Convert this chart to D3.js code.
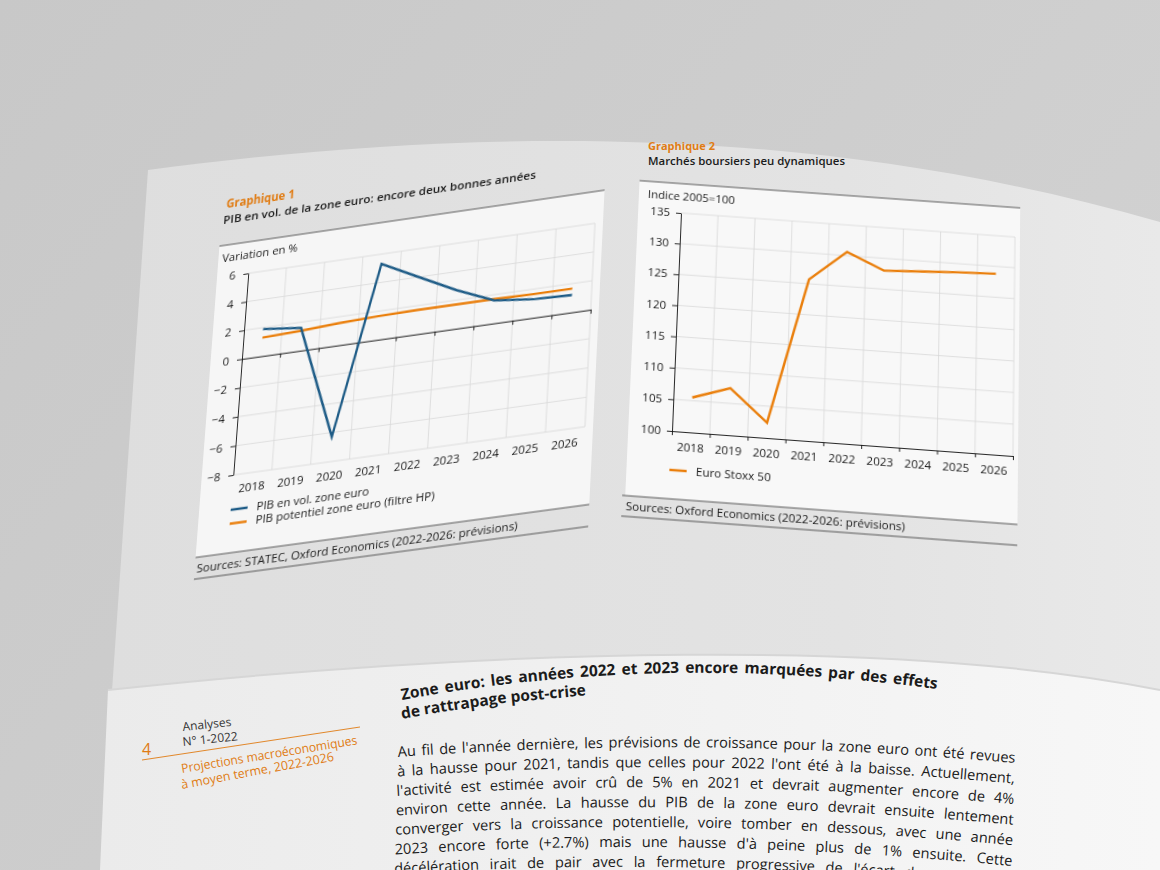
<!DOCTYPE html>
<html><head><meta charset="utf-8">
<script src="https://cdn.jsdelivr.net/npm/d3@7"></script>
<style>
html,body{margin:0;padding:0;width:1160px;height:870px;overflow:hidden;background:#cbcbcb;}
#stage{position:relative;width:1160px;height:870px;overflow:hidden;}
.panel{position:absolute;left:0;top:0;transform-origin:0 0;}
.panel svg{display:block;overflow:visible;}
text{font-family:"Open Sans","Noto Sans",sans-serif;}
</style></head><body><div id="stage"></div>
<script>
// ---------- DATA ----------
const years = ["2018","2019","2020","2021","2022","2023","2024","2025","2026"];
const gdpEuro = [1.9, 1.6, -6.3, 5.3, 4.0, 2.7, 1.6, 1.3, 1.2];
const gdpPotential = [1.3, 1.4, 1.55, 1.65, 1.7, 1.7, 1.7, 1.65, 1.65];
const yTicks1 = [-8, -6, -4, -2, 0, 2, 4, 6];
const stoxx = [105.5, 107.4, 102.4, 125.7, 130.6, 128.0, 128.3, 128.6, 128.8];
const yTicks2 = [100, 105, 110, 115, 120, 125, 130, 135];
const legend1 = ["PIB en vol. zone euro", "PIB potentiel zone euro (filtre HP)"];
const legend2 = ["Euro Stoxx 50"];
const headLines = ["Zone euro: les années 2022 et 2023 encore marquées par des effets", "de rattrapage post-crise"];
const bodyLines = [
 "Au fil de l'année dernière, les prévisions de croissance pour la zone euro ont été revues",
 "à la hausse pour 2021, tandis que celles pour 2022 l'ont été à la baisse. Actuellement,",
 "l'activité est estimée avoir crû de 5% en 2021 et devrait augmenter encore de 4%",
 "environ cette année. La hausse du PIB de la zone euro devrait ensuite lentement",
 "converger vers la croissance potentielle, voire tomber en dessous, avec une année",
 "2023 encore forte (+2.7%) mais une hausse d'à peine plus de 1% ensuite. Cette",
 "décélération irait de pair avec la fermeture progressive de l'écart de production,"
];

const BLUE = "#1d5b86", ORANGE = "#ea7f0c", TORANGE = "#e07c14", GRID = "#d8d8d8", INK = "#1b1b1b";

// ---------- helpers ----------
function homography(src, dst){
  const A=[], b=[];
  for(let i=0;i<4;i++){
    const [x,y]=src[i], [u,v]=dst[i];
    A.push([x,y,1,0,0,0,-u*x,-u*y]); b.push(u);
    A.push([0,0,0,x,y,1,-v*x,-v*y]); b.push(v);
  }
  const n=8;
  for(let c=0;c<n;c++){
    let p=c; for(let r=c+1;r<n;r++) if(Math.abs(A[r][c])>Math.abs(A[p][c])) p=r;
    [A[c],A[p]]=[A[p],A[c]]; [b[c],b[p]]=[b[p],b[c]];
    for(let r=0;r<n;r++){ if(r===c) continue; const f=A[r][c]/A[c][c];
      for(let k=c;k<n;k++) A[r][k]-=f*A[c][k]; b[r]-=f*b[c]; }
  }
  const h=b.map((v,i)=>v/A[i][i]);
  return `matrix3d(${h[0]},${h[3]},0,${h[6]},${h[1]},${h[4]},0,${h[7]},0,0,1,0,${h[2]},${h[5]},0,1)`;
}
const stage = d3.select("#stage");
function makePanel(w,h,src,dst){
  const div = stage.append("div").attr("class","panel").style("width",w+"px").style("height",h+"px")
    .style("transform", homography(src,dst));
  return div.append("svg").attr("width",w).attr("height",h);
}

// ---------- PAGE ----------
const page = stage.append("svg").attr("width",1160).attr("height",870)
  .style("position","absolute").style("left",0).style("top",0);
const defs = page.append("defs");
const g1 = defs.append("linearGradient").attr("id","bg").attr("x1",0).attr("y1",0).attr("x2",1).attr("y2",0.6);
g1.append("stop").attr("offset",0).attr("stop-color","#c8c8c8");
g1.append("stop").attr("offset",1).attr("stop-color","#d2d2d2");
const g2 = defs.append("linearGradient").attr("id","up").attr("x1",0).attr("y1",0).attr("x2",1).attr("y2",0);
g2.append("stop").attr("offset",0).attr("stop-color","#dedede");
g2.append("stop").attr("offset",0.7).attr("stop-color","#e3e3e3");
g2.append("stop").attr("offset",1).attr("stop-color","#e9e9e9");
const g3 = defs.append("linearGradient").attr("id","low").attr("x1",0).attr("y1",0).attr("x2",1).attr("y2",0);
g3.append("stop").attr("offset",0).attr("stop-color","#ebebeb");
g3.append("stop").attr("offset",1).attr("stop-color","#f7f7f7");

page.append("rect").attr("width",1160).attr("height",870).attr("fill","url(#bg)");
page.append("path").attr("d","M148,170 C450,130 800,118 1160,222 L1160,720 L110,720 Z").attr("fill","url(#up)");
page.append("path").attr("d","M108,690 C500,648 900,638 1160,690 L1160,870 L100,870 Z").attr("fill","url(#low)");
page.append("path").attr("d","M108,690 C500,648 900,638 1160,690").attr("fill","none").attr("stroke","#d6d6d6").attr("stroke-width",2);

// chart 2 titles (page level, horizontal)
page.append("text").attr("x",648).attr("y",150).attr("fill",TORANGE).attr("font-size",11).attr("font-weight",700).text("Graphique 2");
page.append("text").attr("x",648).attr("y",165).attr("fill",INK).attr("font-size",11).attr("font-weight",600)
  .attr("textLength",197).attr("lengthAdjust","spacingAndGlyphs").text("Marchés boursiers peu dynamiques");

// lower page: words laid along gently curved baselines
const lp = page.append("g");
function curve(x0,y0,cx,cy,x1,y1){ return `M${x0},${y0} Q${cx},${cy} ${x1},${y1}`; }
function layoutLine(d, txt, size, weight, justify){
  const node = defs.append("path").attr("d",d).node();
  const L = node.getTotalLength();
  const words = txt.split(" ");
  const tmp = lp.append("text").attr("font-size",size).attr("font-weight",weight);
  const widths = words.map(w=>{ tmp.text(w); return tmp.node().getComputedTextLength(); });
  tmp.text("a a"); const w3 = tmp.node().getComputedTextLength();
  tmp.text("aa"); const w2 = tmp.node().getComputedTextLength();
  tmp.remove();
  const total = d3.sum(widths);
  const gap = justify ? (L - total)/(words.length-1) : (w3-w2);
  let s = 0;
  words.forEach((w,i)=>{
    const m = s + widths[i]/2;
    const pt = node.getPointAtLength(Math.min(L,m));
    const a = node.getPointAtLength(Math.max(0,Math.min(L,m)-2)), b = node.getPointAtLength(Math.min(L,m+2));
    const ang = Math.atan2(b.y-a.y, b.x-a.x)*180/Math.PI;
    lp.append("text").attr("transform",`translate(${pt.x.toFixed(2)},${pt.y.toFixed(2)}) rotate(${ang.toFixed(2)})`)
      .attr("text-anchor","middle").attr("font-size",size).attr("font-weight",weight).attr("fill",INK).text(w);
    s += widths[i] + gap;
  });
}
layoutLine(curve(402,700,660,652,937,689), headLines[0], 15.5, 700, true);
layoutLine(curve(402,719,660,671,937,708), headLines[1], 15.5, 700, false);
bodyLines.forEach((txt,i)=>{
  layoutLine(curve(398-0.6*i, 757+19.5*i, 700, 735+20*i, 1015-0.6*i, 763+20.6*i), txt, 14.6, 400, true);
});
// margin
page.append("text").attr("x",142).attr("y",755).attr("fill",TORANGE).attr("font-size",16).text("4");
page.append("text").attr("transform","translate(183,731) rotate(-6)").attr("fill","#333").attr("font-size",12).text("Analyses");
page.append("text").attr("transform","translate(183,746) rotate(-6)").attr("fill","#333").attr("font-size",12).text("N° 1-2022");
page.append("line").attr("x1",142).attr("y1",760).attr("x2",360).attr("y2",727).attr("stroke",TORANGE).attr("stroke-width",0.9);
page.append("text").attr("transform","translate(182,773) rotate(-9.3)").attr("fill",TORANGE).attr("font-size",12.5)
  .attr("textLength",178).attr("lengthAdjust","spacingAndGlyphs").text("Projections macroéconomiques");
page.append("text").attr("transform","translate(182,789) rotate(-10.5)").attr("fill",TORANGE).attr("font-size",12.5)
  .attr("textLength",155).attr("lengthAdjust","spacingAndGlyphs").text("à moyen terme, 2022-2026");

// ---------- CHART 1 ----------
(function(){
  const W=420,H=400,x0=40,x1=390,y0=90,y1=290;
  const svg = makePanel(W,H,[[x0,y0],[x1,y0],[x1,y1],[x0,y1]],
    [[248.3,273.3],[595,223.3],[585,426.7],[233.3,475]]);
  svg.append("rect").attr("x",8).attr("y",58).attr("width",390).attr("height",308).attr("fill","#f6f6f6");
  svg.append("line").attr("x1",8).attr("x2",398).attr("y1",58).attr("y2",58).attr("stroke","#4a4a4a").attr("stroke-width",0.9);
  [366,387].forEach(y=>svg.append("line").attr("x1",8).attr("x2",398).attr("y1",y).attr("y2",y).attr("stroke","#4a4a4a").attr("stroke-width",0.9));
  svg.append("text").attr("x",10).attr("y",381).attr("font-size",11.5).attr("fill",INK).text("Sources: STATEC, Oxford Economics (2022-2026: prévisions)");
  svg.append("text").attr("x",12).attr("y",20).attr("font-size",11.5).attr("font-weight",700).attr("fill",TORANGE).text("Graphique 1");
  svg.append("text").attr("x",10).attr("y",36).attr("font-size",11.5).attr("font-weight",600).attr("fill",INK)
    .attr("textLength",318).attr("lengthAdjust","spacingAndGlyphs").text("PIB en vol. de la zone euro: encore deux bonnes années");
  svg.append("text").attr("x",12).attr("y",75).attr("font-size",11.5).attr("fill",INK).text("Variation en %");

  const x = d3.scaleBand().domain(years).range([x0,x1]);
  const xb = d3.scaleLinear().domain([0,years.length]).range([x0,x1]);
  const y = d3.scaleLinear().domain([-8,6]).range([y1,y0]);
  const grid = svg.append("g");
  grid.selectAll("line.h").data(yTicks1).join("line").attr("x1",x0).attr("x2",x1)
    .attr("y1",d=>y(d)).attr("y2",d=>y(d)).attr("stroke",GRID).attr("stroke-width",0.8);
  grid.selectAll("line.v").data(d3.range(1,years.length+1)).join("line").attr("x1",d=>xb(d)).attr("x2",d=>xb(d))
    .attr("y1",y0).attr("y2",y1).attr("stroke",GRID).attr("stroke-width",0.8);

  const zAx = svg.append("g").attr("transform",`translate(0,${y(0)})`)
    .call(d3.axisBottom(xb).tickValues(d3.range(0,years.length+1)).tickFormat("").tickSize(4).tickSizeOuter(0));
  zAx.selectAll("path,line").attr("stroke","#111").attr("stroke-width",0.9);
  const xl = svg.append("g").attr("transform",`translate(0,${y1})`).call(d3.axisBottom(x).tickSize(0).tickPadding(10));
  xl.select(".domain").remove();
  xl.selectAll("text").attr("font-size",11.5).attr("fill",INK).attr("font-family","Open Sans, Noto Sans, sans-serif");
  const ya = svg.append("g").attr("transform",`translate(${x0},0)`)
    .call(d3.axisLeft(y).tickValues(yTicks1).tickSize(5).tickSizeOuter(0).tickPadding(8));
  ya.selectAll("path,line").attr("stroke","#111").attr("stroke-width",0.9);
  ya.selectAll("text").attr("font-size",11.5).attr("fill",INK).attr("font-family","Open Sans, Noto Sans, sans-serif");

  const line = d3.line().x((d,i)=>x(years[i])+x.bandwidth()/2).y(d=>y(d));
  svg.append("path").datum(gdpPotential).attr("d",line).attr("fill","none").attr("stroke",ORANGE).attr("stroke-width",2.4);
  svg.append("path").datum(gdpEuro).attr("d",line).attr("fill","none").attr("stroke",BLUE).attr("stroke-width",2.4);

  const lg = svg.append("g");
  [[BLUE,legend1[0]],[ORANGE,legend1[1]]].forEach(([c,t],i)=>{
    const yy = y1+34+i*13.5;
    lg.append("line").attr("x1",x0).attr("x2",x0+17).attr("y1",yy).attr("y2",yy).attr("stroke",c).attr("stroke-width",2.4);
    lg.append("text").attr("x",x0+26).attr("y",yy+4).attr("font-size",11.5).attr("fill",INK).text(t);
  });
})();

// ---------- CHART 2 ----------
(function(){
  const W=410,H=400,x0=48,x1=383,y0=80,y1=298;
  const svg = makePanel(W,H,[[x0,y0],[x1,y0],[x1,y1],[x0,y1]],
    [[681,213],[1015,237],[1013,456],[672,431]]);
  svg.append("rect").attr("x",5).attr("y",50).attr("width",383).attr("height",314).attr("fill","#f8f8f8");
  svg.append("line").attr("x1",5).attr("x2",388).attr("y1",50).attr("y2",50).attr("stroke","#4a4a4a").attr("stroke-width",0.9);
  [364,384].forEach(yy=>svg.append("line").attr("x1",2).attr("x2",388).attr("y1",yy).attr("y2",yy).attr("stroke","#4a4a4a").attr("stroke-width",0.9));
  svg.append("text").attr("x",6).attr("y",378).attr("font-size",11.5).attr("fill",INK).text("Sources: Oxford Economics (2022-2026: prévisions)");
  svg.append("text").attr("x",14).attr("y",67).attr("font-size",11.5).attr("fill",INK).text("Indice 2005=100");

  const x = d3.scaleBand().domain(years).range([x0,x1]);
  const xb = d3.scaleLinear().domain([0,years.length]).range([x0,x1]);
  const y = d3.scaleLinear().domain([100,135]).range([y1,y0]);
  const grid = svg.append("g");
  grid.selectAll("line.h").data(yTicks2.slice(1)).join("line").attr("x1",x0).attr("x2",x1)
    .attr("y1",d=>y(d)).attr("y2",d=>y(d)).attr("stroke",GRID).attr("stroke-width",0.8);
  grid.selectAll("line.v").data(d3.range(1,years.length+1)).join("line").attr("x1",d=>xb(d)).attr("x2",d=>xb(d))
    .attr("y1",y0).attr("y2",y1).attr("stroke",GRID).attr("stroke-width",0.8);

  const bAx = svg.append("g").attr("transform",`translate(0,${y1})`)
    .call(d3.axisBottom(xb).tickValues(d3.range(0,years.length+1)).tickFormat("").tickSize(4).tickSizeOuter(0));
  bAx.selectAll("path,line").attr("stroke","#111").attr("stroke-width",0.9);
  const xl = svg.append("g").attr("transform",`translate(0,${y1})`).call(d3.axisBottom(x).tickSize(0).tickPadding(11));
  xl.select(".domain").remove();
  xl.selectAll("text").attr("font-size",11.5).attr("fill",INK).attr("font-family","Open Sans, Noto Sans, sans-serif");
  const ya = svg.append("g").attr("transform",`translate(${x0},0)`)
    .call(d3.axisLeft(y).tickValues(yTicks2).tickSize(5).tickSizeOuter(0).tickPadding(6));
  ya.selectAll("path,line").attr("stroke","#111").attr("stroke-width",0.9);
  ya.selectAll("text").attr("font-size",11.5).attr("fill",INK).attr("font-family","Open Sans, Noto Sans, sans-serif");

  const line = d3.line().x((d,i)=>x(years[i])+x.bandwidth()/2).y(d=>y(d));
  svg.append("path").datum(stoxx).attr("d",line).attr("fill","none").attr("stroke",ORANGE).attr("stroke-width",2.4);

  svg.append("line").attr("x1",x0-1).attr("x2",x0+16).attr("y1",y1+38).attr("y2",y1+38).attr("stroke",ORANGE).attr("stroke-width",2.4);
  svg.append("text").attr("x",x0+25).attr("y",y1+42).attr("font-size",11.5).attr("fill",INK).text(legend2[0]);
})();
</script></body></html>
